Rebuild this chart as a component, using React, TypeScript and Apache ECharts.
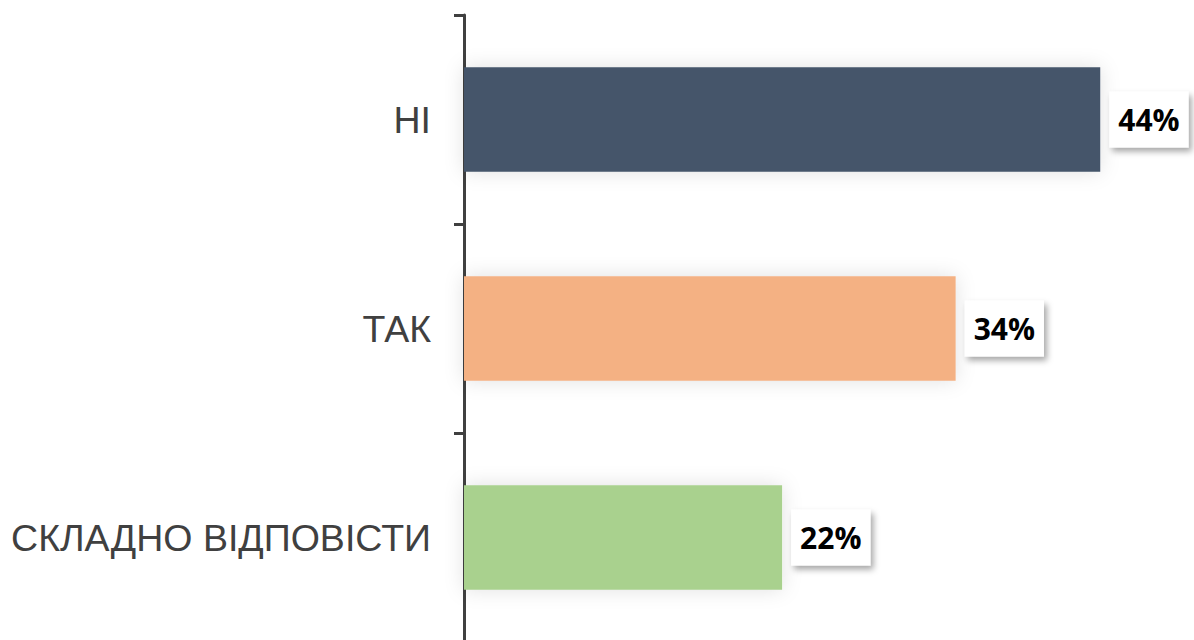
import React, { useEffect, useRef } from "react";
import * as echarts from "echarts";

const categories = ["НІ", "ТАК", "СКЛАДНО ВІДПОВІСТИ"];
const values = [44, 34, 22];
const colors = ["#44546A", "#F4B183", "#A9D18E"];

export default function App() {
  const ref = useRef<HTMLDivElement>(null);
  useEffect(() => {
    const chart = echarts.init(ref.current!, null, { renderer: "svg" });
    chart.setOption({
      animation: false,
      grid: { left: 464, right: 7, top: 15, bottom: 8 },
      xAxis: { type: "value", min: 0, max: 50, show: false },
      yAxis: {
        type: "category",
        data: categories,
        inverse: true,
        axisLine: { show: true, lineStyle: { color: "#404040", width: 3 } },
        axisTick: { show: true, length: 10, lineStyle: { color: "#404040", width: 3 } },
        axisLabel: {
          margin: 33,
          color: "#404040",
          fontSize: 37.5,
          fontFamily: "Liberation Sans, Arial, sans-serif",
        },
      },
      series: [
        {
          type: "bar",
          barWidth: "50%",
          data: values.map((v, i) => ({
            value: v,
            itemStyle: {
              color: colors[i],
              shadowBlur: 20,
              shadowColor: "rgba(0,0,0,0.12)",
            },
          })),
          label: {
            show: true,
            position: "right",
            distance: 9,
            formatter: "{c}%",
            color: "#000",
            fontWeight: "bold",
            fontSize: 30,
            fontFamily: "Open Sans, Noto Sans, sans-serif",
            backgroundColor: "#fff",
            padding: [13, 9, 13, 9],
            shadowBlur: 6,
            shadowOffsetX: 3,
            shadowOffsetY: 4,
            shadowColor: "rgba(0,0,0,0.35)",
          },
        },
      ],
    });
    return () => chart.dispose();
  }, []);
  return (
    <div
      ref={ref}
      style={{ position: "fixed", left: 0, top: 0, width: 1194, height: 650, background: "#fff" }}
    />
  );
}
